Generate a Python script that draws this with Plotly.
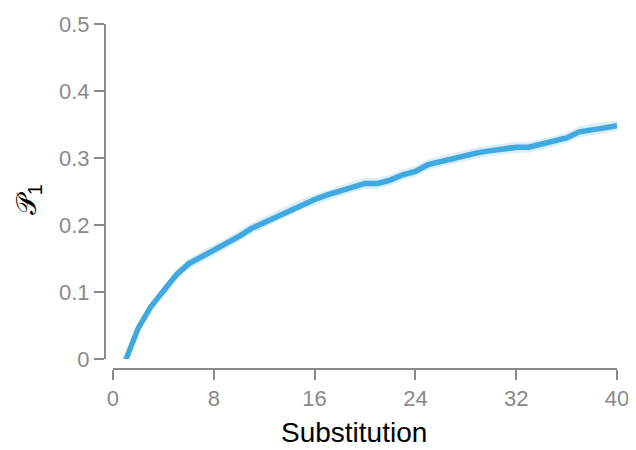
import plotly.graph_objects as go

substitution = list(range(1, 41))
p1_mean = [-0.002, 0.046, 0.078, 0.101, 0.125, 0.142, 0.152, 0.163, 0.173, 0.183,
           0.195, 0.204, 0.212, 0.222, 0.231, 0.238, 0.245, 0.251, 0.257, 0.262,
           0.262, 0.267, 0.275, 0.280, 0.290, 0.295, 0.300, 0.304, 0.308, 0.311,
           0.314, 0.316, 0.316, 0.320, 0.325, 0.330, 0.339, 0.343, 0.345, 0.348]
p1_err = [0.004, 0.005, 0.006, 0.007, 0.008, 0.008, 0.008, 0.008, 0.008, 0.008,
          0.008, 0.008, 0.008, 0.008, 0.008, 0.008, 0.008, 0.008, 0.008, 0.008,
          0.008, 0.008, 0.008, 0.008, 0.008, 0.008, 0.008, 0.008, 0.008, 0.008,
          0.008, 0.008, 0.008, 0.008, 0.008, 0.008, 0.008, 0.008, 0.008, 0.008]
x_ticks = [0, 8, 16, 24, 32, 40]
y_ticks = [0, 0.1, 0.2, 0.3, 0.4, 0.5]
y_ticklabels = ["0", "0.1", "0.2", "0.3", "0.4", "0.5"]
x_title = "Substitution"
y_title = "𝒫<sub>1</sub>"

upper = [m + e for m, e in zip(p1_mean, p1_err)]
lower = [m - e for m, e in zip(p1_mean, p1_err)]

fig = go.Figure()
fig.add_trace(go.Scatter(x=substitution + substitution[::-1], y=upper + lower[::-1],
                         fill="toself", fillcolor="rgba(63,169,224,0.2)",
                         line=dict(width=0), hoverinfo="skip", showlegend=False))
fig.add_trace(go.Scatter(x=substitution, y=p1_mean, mode="lines",
                         line=dict(color="#3FA9E0", width=5.5), showlegend=False))

axis_gray = "#8a8a8a"
font_family = "Arial, Liberation Sans, sans-serif"

fig.update_layout(
    width=636, height=450,
    margin=dict(l=97, r=27, t=16, b=89),
    paper_bgcolor="white", plot_bgcolor="white",
    font=dict(family=font_family),
    xaxis=dict(domain=[0.0156, 1], range=[0, 40], anchor="free", position=0,
               automargin=False,
               tickvals=x_ticks, ticks="outside", ticklen=10, tickwidth=2,
               tickcolor=axis_gray, showline=True, linecolor=axis_gray, linewidth=2,
               showgrid=False, zeroline=False,
               tickfont=dict(size=22, color=axis_gray)),
    yaxis=dict(domain=[0.029, 1], range=[0, 0.5], anchor="free", position=0,
               automargin=False,
               tickvals=y_ticks, ticktext=y_ticklabels, ticks="outside", ticklen=10,
               tickwidth=2, tickcolor=axis_gray, showline=True, linecolor=axis_gray,
               linewidth=2, showgrid=False, zeroline=False,
               tickfont=dict(size=22, color=axis_gray)),
    annotations=[
        dict(text=x_title, xref="paper", yref="paper", x=0.486, y=-0.183,
             xanchor="center", yanchor="middle", showarrow=False,
             font=dict(size=28, color="black", family=font_family)),
        dict(text=y_title, xref="paper", yref="paper", x=-0.148, y=0.49,
             xanchor="center", yanchor="middle", showarrow=False, textangle=-90,
             font=dict(size=28, color="black")),
    ],
)

fig.write_html("out.html")
